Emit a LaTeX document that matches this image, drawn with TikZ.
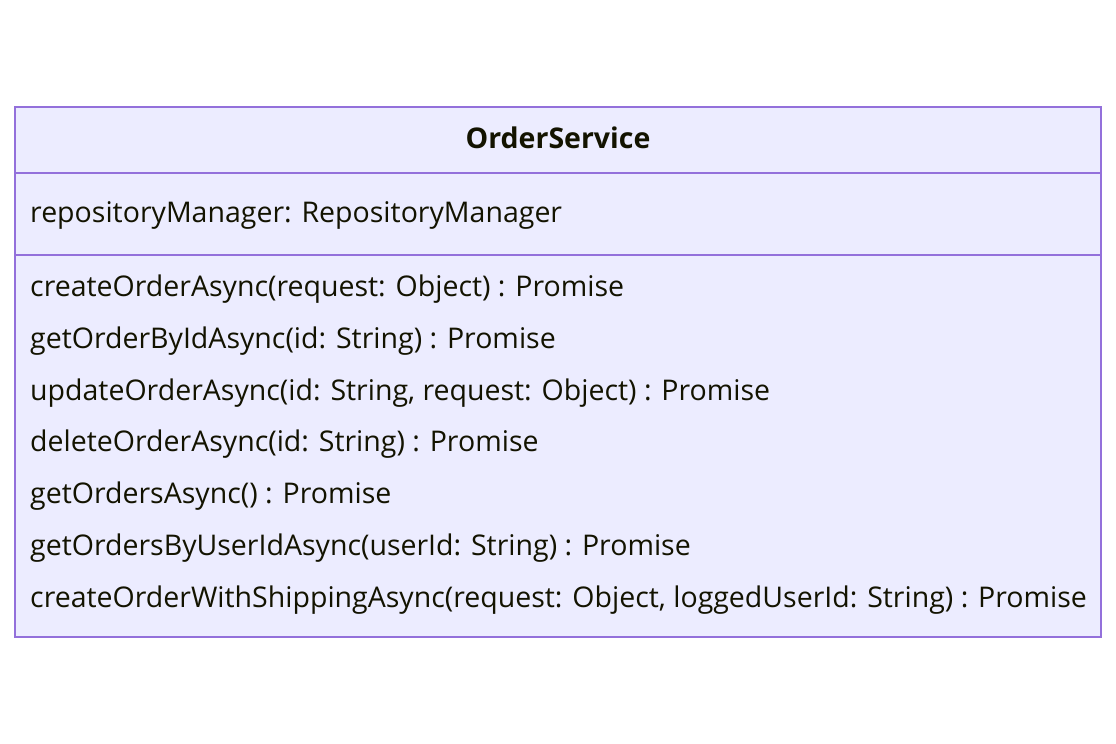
\documentclass[tikz,border=0pt]{standalone}
\usepackage{fontspec}
\setmainfont{Open Sans}
\definecolor{classfill}{HTML}{ECECFF}
\definecolor{classline}{HTML}{9370DB}
\definecolor{classtext}{HTML}{131300}
\begin{document}
\begin{tikzpicture}[x=1pt,y=-1pt,
  member/.style={anchor=base west,inner sep=0pt,text=classtext,font=\fontsize{28.5}{34}\selectfont},
  title/.style={anchor=base,inner sep=0pt,text=classtext,font=\fontsize{28.5}{34}\selectfont\bfseries}]
\useasboundingbox (0,0) rectangle (1116,744);
% class box
\draw[classline,fill=classfill,line width=1.5pt] (15,107) rectangle (1101,637);
\draw[classline,line width=1.5pt] (15,173) -- (1101,173);
\draw[classline,line width=1.5pt] (15,255) -- (1101,255);
\node[title] (name) at (558,148) {OrderService};
\node[member] (a1) at (30,222) {repositoryManager: RepositoryManager};
\node[member] (m1) at (30,296) {createOrderAsync(request: Object) : Promise};
\node[member] (m2) at (30,348) {getOrderByIdAsync(id: String) : Promise};
\node[member] (m3) at (30,400) {updateOrderAsync(id: String, request: Object) : Promise};
\node[member] (m4) at (30,451) {deleteOrderAsync(id: String) : Promise};
\node[member] (m5) at (30,503) {getOrdersAsync() : Promise};
\node[member] (m6) at (30,555) {getOrdersByUserIdAsync(userId: String) : Promise};
\node[member] (m7) at (30,607) {createOrderWithShippingAsync(request: Object, loggedUserId: String) : Promise};
\end{tikzpicture}
\end{document}
